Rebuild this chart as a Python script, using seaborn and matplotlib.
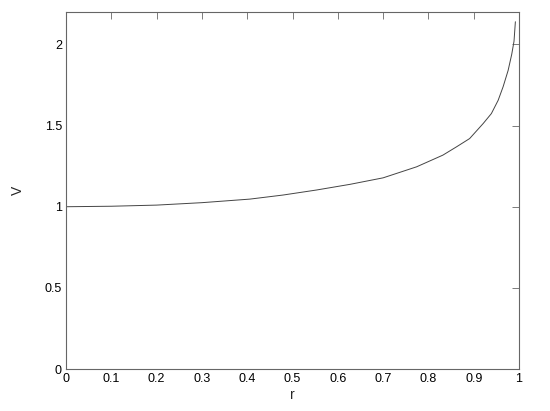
import matplotlib
matplotlib.use("Agg")
import matplotlib.pyplot as plt
import seaborn as sns
import pandas as pd

r_vals = [0.0, 0.1, 0.2, 0.3, 0.406, 0.479, 0.553, 0.627, 0.70, 0.774, 0.832, 0.862,
          0.891, 0.921, 0.939, 0.954, 0.965, 0.976, 0.984, 0.989, 0.992]
v_vals = [1.0, 1.003, 1.01, 1.025, 1.047, 1.072, 1.103, 1.138, 1.178, 1.246, 1.318, 1.369,
          1.42, 1.513, 1.574, 1.656, 1.74, 1.84, 1.94, 2.02, 2.14]
x_ticks = [0, 0.1, 0.2, 0.3, 0.4, 0.5, 0.6, 0.7, 0.8, 0.9, 1]
x_tick_labels = ["0", "0.1", "0.2", "0.3", "0.4", "0.5", "0.6", "0.7", "0.8", "0.9", "1"]
y_ticks = [0, 0.5, 1, 1.5, 2]
y_tick_labels = ["0", "0.5", "1", "1.5", "2"]

sns.set_style("white")
plt.rcParams["font.family"] = ["Liberation Sans", "DejaVu Sans"]

df = pd.DataFrame({"r": r_vals, "V": v_vals})

fig = plt.figure(figsize=(5.5, 4.11), dpi=100)
ax = fig.add_axes([66 / 550, 1 - 369 / 411, (519 - 66) / 550, (369 - 12) / 411])
sns.lineplot(data=df, x="r", y="V", ax=ax, color="#444444", linewidth=0.7)

ax.set_xlim(0, 1)
ax.set_ylim(0, 2.2)
ax.set_xticks(x_ticks)
ax.set_xticklabels(x_tick_labels)
ax.set_yticks(y_ticks)
ax.set_yticklabels(y_tick_labels)
ax.tick_params(axis="both", direction="in", length=5, width=0.6, color="#666666",
               labelsize=9, top=True, right=True, pad=3, labelcolor="black")
for s in ax.spines.values():
    s.set_visible(True)
    s.set_color("#666666")
    s.set_linewidth(0.8)
ax.set_xlabel("r", fontsize=10, labelpad=2)
ax.set_ylabel("V", fontsize=10, labelpad=14)

fig.savefig("out.png", dpi=100)
